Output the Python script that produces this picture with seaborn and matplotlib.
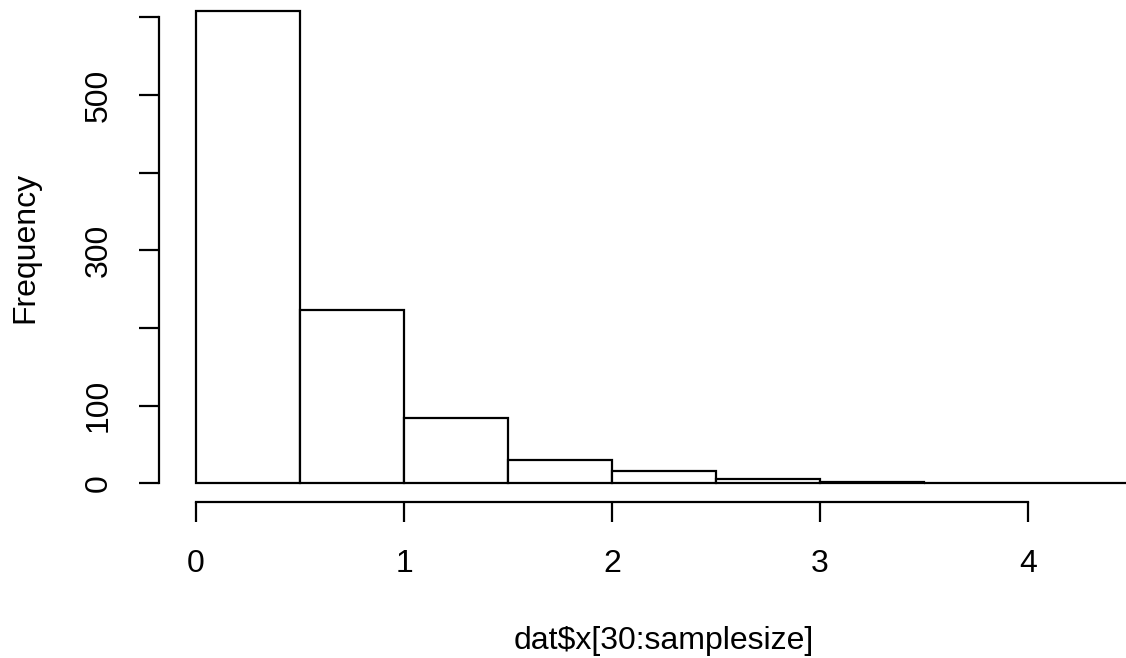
import numpy as np
import matplotlib
matplotlib.use("Agg")
import matplotlib.pyplot as plt
import seaborn as sns

# Data
bin_edges = [0.0, 0.5, 1.0, 1.5, 2.0, 2.5, 3.0, 3.5, 4.0, 4.5]
counts = [608, 223, 84, 30, 16, 5, 2, 1, 1]
x_ticks = [0, 1, 2, 3, 4]
x_tick_labels = ["0", "1", "2", "3", "4"]
y_ticks = [0, 100, 200, 300, 400, 500, 600]
y_tick_labels = ["0", "100", "", "300", "", "500", ""]
x_label = "dat$x[30:samplesize]"
y_label = "Frequency"

sns.set_theme(style="white")
plt.rcParams['font.family'] = ['Liberation Sans', 'DejaVu Sans']

W, H = 1126, 658
FS = 23
LW = 1.6
fig = plt.figure(figsize=(W / 100, H / 100), dpi=100)
ax = fig.add_axes([158.6 / W, (H - 502.2) / H, 1010.9 / W, 510.0 / H])

centers = [(a + b) / 2 for a, b in zip(bin_edges[:-1], bin_edges[1:])]
sns.histplot(x=centers, weights=counts, bins=bin_edges, ax=ax,
             color="white", edgecolor="black", linewidth=LW, alpha=1.0)

ax.set_xlim(-0.18, 4.68)
ax.set_ylim(-24.32, 632.32)

for s in ["top", "right"]:
    ax.spines[s].set_visible(False)
for s in ["left", "bottom"]:
    ax.spines[s].set_visible(True)
    ax.spines[s].set_color("black")
    ax.spines[s].set_linewidth(LW)
ax.spines["left"].set_bounds(0, 600)
ax.spines["bottom"].set_bounds(0, 4)

ax.set_xticks(x_ticks)
ax.set_xticklabels(x_tick_labels)
ax.set_yticks(y_ticks)
ax.set_yticklabels(y_tick_labels, rotation=90, va="center")
ax.tick_params(axis="both", which="major", direction="out", length=14.4,
               width=LW, color="black", labelsize=FS, labelcolor="black",
               left=True, bottom=True)
ax.tick_params(axis="x", pad=19)
ax.tick_params(axis="y", pad=18)
ax.grid(False)

ax.set_xlabel("")
ax.set_ylabel("")
fig.text(0.5 * (158.6 + 1169.4) / W, (H - 649) / H, x_label, ha="center",
         va="baseline", fontsize=FS, color="black")
fig.text(25 / W, (H - 247.2) / H, y_label, ha="center", va="center",
         rotation=90, fontsize=FS, color="black")

fig.savefig("out.png", dpi=100, facecolor="white")
